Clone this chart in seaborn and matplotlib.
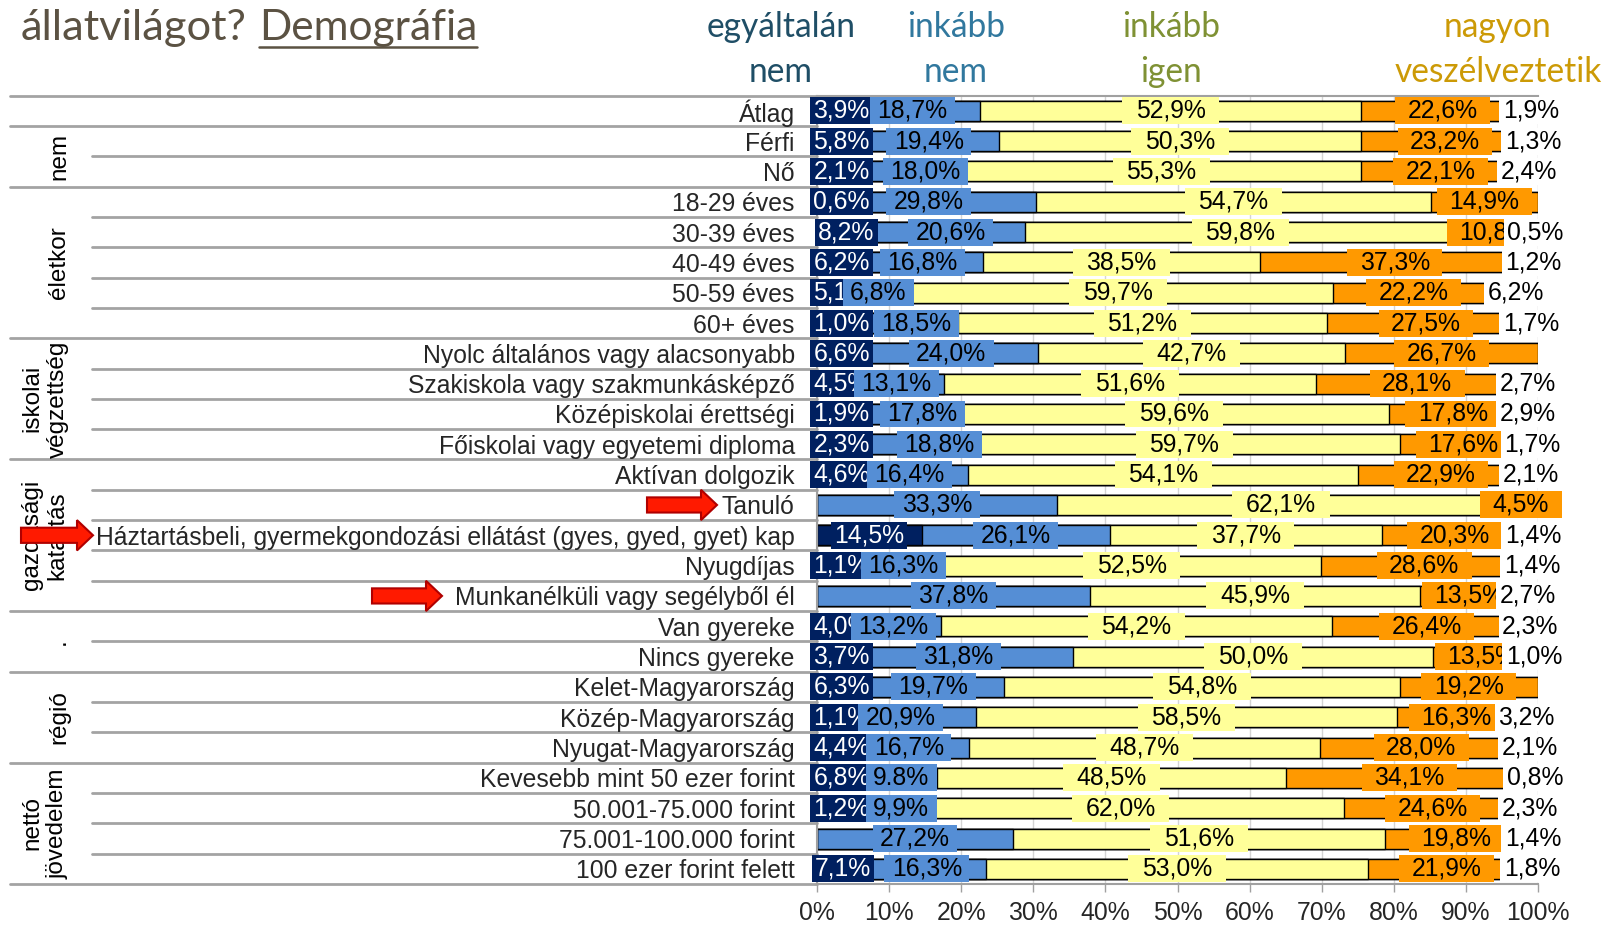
import numpy as np
import pandas as pd
import matplotlib
matplotlib.use("Agg")
import matplotlib.pyplot as plt
import seaborn as sns
from matplotlib import font_manager as fm
from matplotlib.path import Path
from matplotlib.patches import FancyArrow
from matplotlib.lines import Line2D
import matplotlib.transforms as mtransforms

# ---------------- data ----------------
categories = [
    "Átlag", "Férfi", "Nő", "18-29 éves", "30-39 éves", "40-49 éves", "50-59 éves", "60+ éves",
    "Nyolc általános vagy alacsonyabb", "Szakiskola vagy szakmunkásképző", "Középiskolai érettségi",
    "Főiskolai vagy egyetemi diploma", "Aktívan dolgozik", "Tanuló",
    "Háztartásbeli, gyermekgondozási ellátást (gyes, gyed, gyet) kap", "Nyugdíjas",
    "Munkanélküli vagy segélyből él", "Van gyereke", "Nincs gyereke", "Kelet-Magyarország",
    "Közép-Magyarország", "Nyugat-Magyarország", "Kevesebb mint 50 ezer forint",
    "50.001-75.000 forint", "75.001-100.000 forint", "100 ezer forint felett",
]
egyaltalan_nem = [3.9, 5.8, 2.1, 0.6, 8.2, 6.2, 5.1, 1.0, 6.6, 4.5, 1.9, 2.3, 4.6, 0.0, 14.5, 1.1, 0.0,
                  4.0, 3.7, 6.3, 1.1, 4.4, 6.8, 1.2, 0.0, 7.1]
inkabb_nem = [18.7, 19.4, 18.0, 29.8, 20.6, 16.8, 6.8, 18.5, 24.0, 13.1, 17.8, 18.8, 16.4, 33.3, 26.1, 16.3,
              37.8, 13.2, 31.8, 19.7, 20.9, 16.7, 9.8, 9.9, 27.2, 16.3]
inkabb_igen = [52.9, 50.3, 55.3, 54.7, 59.8, 38.5, 59.7, 51.2, 42.7, 51.6, 59.6, 59.7, 54.1, 62.1, 37.7, 52.5,
               45.9, 54.2, 50.0, 54.8, 58.5, 48.7, 48.5, 62.0, 51.6, 53.0]
nagyon = [22.6, 23.2, 22.1, 14.9, 10.8, 37.3, 22.2, 27.5, 26.7, 28.1, 17.8, 17.6, 22.9, 4.5, 20.3, 28.6,
          13.5, 26.4, 13.5, 19.2, 16.3, 28.0, 34.1, 24.6, 19.8, 21.9]
nem_tudja = [1.9, 1.3, 2.4, 0.0, 0.5, 1.2, 6.2, 1.7, 0.0, 2.7, 2.9, 1.7, 2.1, 0.0, 1.4, 1.4, 2.7, 2.3, 1.0,
             0.0, 3.2, 2.1, 0.8, 2.3, 1.4, 1.8]
label_overrides = {(22, 1): "9.8%"}

group_names = ["", "nem", "életkor", "iskolai\nvégzettség", "gazdasági\nkatalitás", ".", "régió", "nettó\njövedelem"]
group_sizes = [1, 2, 5, 4, 5, 2, 3, 4]
arrow_rows = [13, 14, 16]

header_top = ["egyáltalán", "inkább", "inkább", "nagyon"]
header_bottom = ["nem", "nem", "igen", "veszélveztetik"]
header_colors = ["#1f4e66", "#31789e", "#7f9134", "#cc9a06"]

seg_colors = ["#002060", "#558ed5", "#ffff99", "#ff9900", "#ffffff"]
text_colors = ["white", "black", "black", "black", "black"]
box_pads = [0.12, 0.3, 0.55, 0.5, 0.15]
xticks = list(range(0, 101, 10))
tick_labels = [f"{v}%" for v in xticks]

title_a = "állatvilágot?"
title_b = "Demográfia"

# ---------------- fonts ----------------
names = {f.name for f in fm.fontManager.ttflist}
NARROW = "Liberation Sans Narrow" if "Liberation Sans Narrow" in names else "Liberation Sans"
HUM = "Lato" if "Lato" in names else "DejaVu Sans"
ARIAL = "Liberation Sans" if "Liberation Sans" in names else "DejaVu Sans"

sns.set_style("white")
plt.rcParams["font.family"] = [ARIAL, "DejaVu Sans"]

W, H = 1611, 927
fig = plt.figure(figsize=(W / 100, H / 100), dpi=100)
fig.patch.set_facecolor("white")
renderer = fig.canvas.get_renderer()


def fit_size(text, family, target_px, base=20):
    t = fig.text(0, 0, text, fontsize=base, family=family)
    w = t.get_window_extent(renderer).width
    t.remove()
    return base * target_px / w


top_px, bot_px = 95.6, 884.0
ax = fig.add_axes([817 / W, 1 - bot_px / H, 721 / W, (bot_px - top_px) / H])

vals = np.array([egyaltalan_nem, inkabb_nem, inkabb_igen, nagyon, nem_tudja])
cum = np.cumsum(vals, axis=0)
starts = cum - vals

for k in reversed(range(5)):
    df = pd.DataFrame({"kategoria": categories, "ertek": cum[k]})
    sns.barplot(data=df, y="kategoria", x="ertek", order=categories, orient="h",
                color=seg_colors[k], saturation=1, width=0.66, edgecolor="black",
                linewidth=1.0, errorbar=None, ax=ax)

ax.set_xlim(0, 100)
ax.set_ylim(len(categories) - 0.5, -0.5)
ax.set_xlabel("")
ax.set_ylabel("")
ax.set_axisbelow(True)
ax.xaxis.grid(True, color="#d4d4d4", lw=1)
ax.yaxis.grid(False)
for s in ["left", "top", "bottom"]:
    ax.spines[s].set_color("#a0a0a0")
    ax.spines[s].set_linewidth(1.5)
ax.spines["right"].set_visible(False)

fs_row = fit_size(categories[14], NARROW, 700)
fs_val = fs_row
ax.set_xticks(xticks)
ax.set_xticklabels(tick_labels, family=NARROW, fontsize=fs_row)
ax.set_yticks(range(len(categories)))
ax.set_yticklabels(categories, family=NARROW, fontsize=fs_row)
ax.tick_params(axis="y", length=0, pad=16)
ax.tick_params(axis="x", length=6, width=1, color="#a0a0a0", pad=6, direction="out", bottom=True)


def make_box(padx):
    def box(x0, y0, width, height, mutation_size):
        px = padx * mutation_size
        py = 0.06 * mutation_size
        x0 -= px
        y0 -= py
        x1 = x0 + width + 2 * px
        y1 = y0 + height + 2 * py
        return Path([(x0, y0), (x1, y0), (x1, y1), (x0, y1), (x0, y0)], closed=True)
    return box


# labels of very thin first segments are kept inside the plot area;
# a few labels were moved sideways in the original chart
min_first_center = 3.4
label_nudge = {(2, 1): 15.0, (7, 1): 13.8, (10, 1): 14.6, (11, 1): 17.0,
               (15, 1): 12.0, (23, 1): 11.7}

for r in range(len(categories)):
    for k in range(5):
        v = vals[k, r]
        if v <= 0:
            continue
        txt = label_overrides.get((r, k), f"{v:.1f}%".replace(".", ","))
        xc = starts[k, r] + v / 2
        if k == 0:
            xc = max(xc, min_first_center)
        xc = label_nudge.get((r, k), xc)
        ax.text(xc, r, txt, ha="center", va="center",
                fontsize=fs_val, family=NARROW, color=text_colors[k],
                zorder=10 + r + k * 0.1,
                bbox=dict(boxstyle=make_box(box_pads[k]), fc=seg_colors[k], ec="none"))

# row separator lines in label area
blend = mtransforms.blended_transform_factory(fig.transFigure, ax.transData)
bounds = set(np.cumsum([0] + group_sizes).tolist())
for i in range(len(categories) + 1):
    x0 = 10 / W if i in bounds else 92 / W
    ax.plot([x0, 817 / W], [i - 0.5, i - 0.5], transform=blend, color="#a3a3a3",
            lw=2, clip_on=False, zorder=0.5)

# group labels
start = 0
for name, size in zip(group_names, group_sizes):
    if name:
        yc = start + size / 2 - 0.5
        xc = 45 / W if "\n" in name else 59 / W
        ax.text(xc, yc, name, transform=blend, rotation=90, ha="center", va="center",
                multialignment="center", linespacing=1.2, fontsize=17.5, family=ARIAL,
                color="black", zorder=2)
    start += size

# arrows
arrow_x = {13: (647, 717), 14: (21, 93), 16: (372, 442)}
for r in arrow_rows:
    xa, xb = arrow_x[r]
    hl = 16 / W
    arr = FancyArrow(xa / W, r, (xb - xa) / W, 0, width=0.5, head_width=1.0,
                     head_length=hl, length_includes_head=True, transform=blend,
                     fc="#ff1a00", ec="#b00000", lw=1.5, clip_on=False, zorder=50)
    ax.add_artist(arr)

# headers
header_x = [781, 956, 1171, 1498]
fs_head = fit_size(header_top[0], HUM, 149)
for top, bot, col, xc in zip(header_top, header_bottom, header_colors, header_x):
    fig.text(xc / W, 1 - 37 / H, top, ha="center", va="baseline", fontsize=fs_head,
             family=HUM, color=col)
    fig.text(xc / W, 1 - 82 / H, bot, ha="center", va="baseline", fontsize=fs_head,
             family=HUM, color=col)

# title
title_col = "#5b5243"
fs_title_a = fit_size(title_a, HUM, 226)
fs_title_b = fit_size(title_b, HUM, 219)
fig.text(21 / W, 1 - 40 / H, title_a, ha="left", va="baseline", fontsize=fs_title_a,
         family=HUM, color=title_col)
tb = fig.text(259 / W, 1 - 40 / H, title_b, ha="left", va="baseline", fontsize=fs_title_b,
              family=HUM, color=title_col)
ext = tb.get_window_extent(renderer)
fig.add_artist(Line2D([ext.x0 / W, ext.x1 / W], [1 - 47 / H, 1 - 47 / H],
                      transform=fig.transFigure, color=title_col, lw=1.8))

fig.savefig("out.png", dpi=100, facecolor="white")
